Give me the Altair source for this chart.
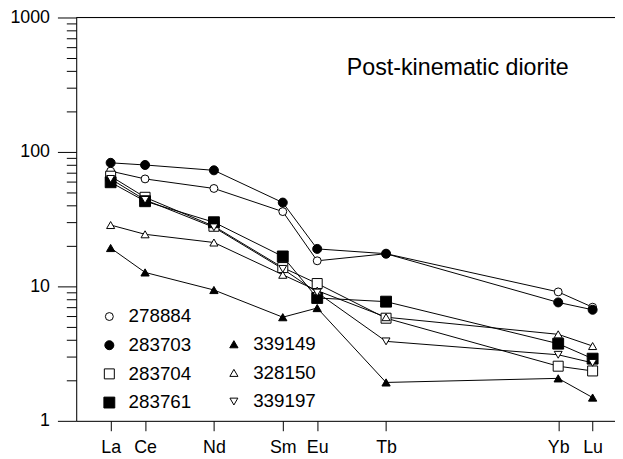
import altair as alt
import pandas as pd

elements = ["La", "Ce", "Nd", "Sm", "Eu", "Tb", "Yb", "Lu"]
atomic = [57, 58, 60, 62, 63, 65, 70, 71]

s278884 = [72, 63, 53.5, 36, 15.5, 17.5, 9.1, 7.0]
s283703 = [83, 80, 73, 42, 19, 17.5, 7.6, 6.7]
s283704 = [66, 46, 28, 13.8, 10.5, 5.8, 2.55, 2.35]
s283761 = [59.5, 43, 30, 16.7, 8.2, 7.7, 3.75, 2.9]
s339149 = [19.3, 12.7, 9.4, 5.9, 6.9, 1.93, 2.07, 1.49]
s328150 = [28.6, 24.4, 21.2, 12.2, 9.3, 5.9, 4.4, 3.6]
s339197 = [63, 44, 27.5, 13.5, 9.0, 3.9, 3.1, 2.7]

group_a = ["278884", "283703", "283704", "283761"]
group_b = ["339149", "328150", "339197"]
series = {
    "278884": s278884, "283703": s283703, "283704": s283704, "283761": s283761,
    "339149": s339149, "328150": s328150, "339197": s339197,
}

rows = []
for name, vals in series.items():
    for el, z, v in zip(elements, atomic, vals):
        rows.append({"sample": name, "element": el, "z": z, "value": v,
                     "group": "A" if name in group_a else "B"})
df = pd.DataFrame(rows)

major = [1, 10, 100, 1000]
minor = [m * d for d in [1, 10, 100] for m in range(2, 10)]
ytick_vals = sorted(major + minor)
major_test = " || ".join(f"datum.value == {m}" for m in major)

label_expr = "".join(f"datum.value == {z} ? '{e}' : " for z, e in zip(atomic, elements)) + "''"

xscale = alt.Scale(domain=[56, 71.65], zero=False, nice=False)
yscale = alt.Scale(type="log", domain=[1, 1000], nice=False)

base = alt.Chart(df)

lines = base.mark_line(color="black", strokeWidth=1).encode(
    x=alt.X("z:Q", scale=xscale,
            axis=alt.Axis(values=atomic, labelExpr=label_expr, title=None, tickSize=10,
                          labelPadding=8, labelFontSize=18, grid=False)),
    y=alt.Y("value:Q", scale=yscale,
            axis=alt.Axis(values=ytick_vals, format="d", title=None, grid=False,
                          labelExpr=f"({major_test}) ? datum.label : ''",
                          tickSize={"condition": {"test": major_test, "value": 19}, "value": 10},
                          labelPadding=8, labelFontSize=18)),
    detail="sample:N",
)


def leg(x, y):
    return alt.Legend(title=None, orient="none", legendX=x, legendY=y, labelFontSize=19,
                      labelOffset=10, rowPadding=9, padding=0, symbolStrokeColor="black",
                      symbolStrokeWidth=1, labelColor="black")


def points(group, shapes, fills, sizes, lx, ly):
    return base.transform_filter(f"datum.group == '{'A' if group is group_a else 'B'}'").mark_point(
        filled=True, stroke="black", strokeWidth=1, opacity=1
    ).encode(
        x="z:Q", y="value:Q",
        shape=alt.Shape("sample:N", scale=alt.Scale(domain=group, range=shapes), legend=leg(lx, ly)),
        fill=alt.Fill("sample:N", scale=alt.Scale(domain=group, range=fills), legend=leg(lx, ly)),
        stroke=alt.Stroke("sample:N", scale=alt.Scale(domain=group, range=["black"] * len(group)),
                          legend=leg(lx, ly)),
        size=alt.Size("sample:N", scale=alt.Scale(domain=group, range=sizes), legend=leg(lx, ly)),
    )


pts_a = points(group_a, ["circle", "circle", "square", "square"],
               ["white", "black", "white", "black"], [64, 121, 81, 144], 24, 293)
pts_b = points(group_b, ["triangle-up", "triangle-up", "triangle-down"],
               ["black", "white", "white"], [70, 64, 64], 150, 321)

top_rule = alt.Chart(pd.DataFrame({"v": [1000]})).mark_rule(color="black", strokeWidth=1).encode(
    y=alt.Y("v:Q", scale=yscale)
)

title_df = pd.DataFrame({"z": [63.86], "value": [372], "label": ["Post-kinematic diorite"]})
title_txt = alt.Chart(title_df).mark_text(
    align="left", baseline="alphabetic", fontSize=23.5, font="Liberation Sans", color="black"
).encode(x="z:Q", y="value:Q", text="label:N")

chart = alt.layer(lines, top_rule, pts_a, pts_b, title_txt).resolve_scale(
    shape="independent", fill="independent", size="independent", stroke="independent"
).properties(
    width=545, height=408,
    autosize=alt.AutoSizeParams(type="none"),
    padding={"left": 69, "top": 7, "right": 0, "bottom": 36},
).configure_view(stroke=None).configure(
    font="Liberation Sans"
).configure_axis(
    domainColor="black", tickColor="black", labelColor="black", domainWidth=1, tickWidth=1,
    labelFont="Liberation Sans"
).configure_legend(labelFont="Liberation Sans")

chart.save("out.html", embed_options={"renderer": "svg", "actions": False})
